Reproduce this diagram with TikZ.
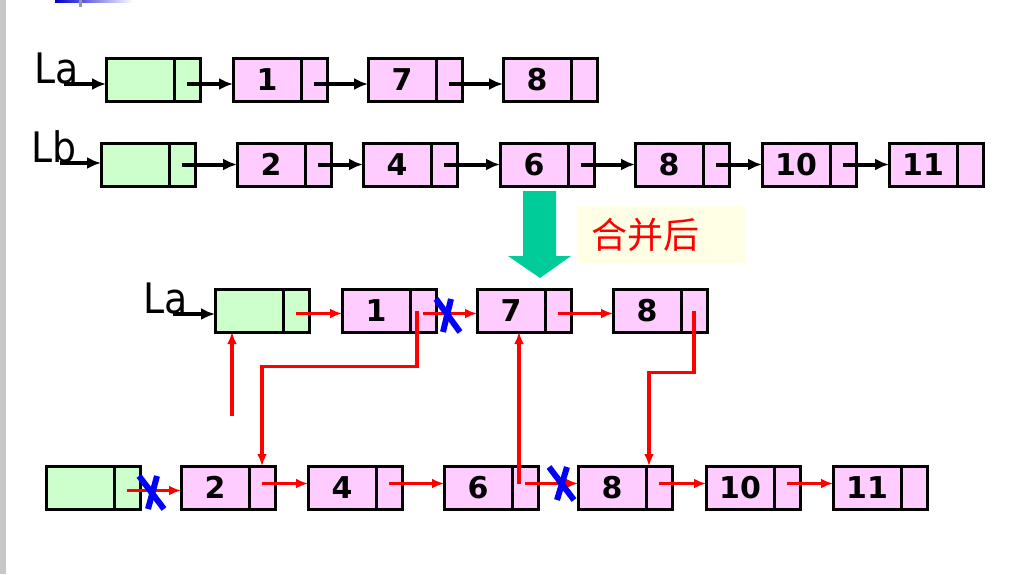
\documentclass[tikz,border=0pt]{standalone}
\usepackage{fontspec}
\usetikzlibrary{positioning,arrows.meta}
\newfontfamily\numfont{DejaVu Sans}
\newfontfamily\lblfont{DejaVu Sans}[FakeStretch=0.9]
\newfontfamily\cjkfont{Noto Sans CJK SC}
\definecolor{boxpink}{RGB}{255,204,255}
\definecolor{headgreen}{RGB}{204,255,204}
\definecolor{arrgreen}{RGB}{0,204,153}
\definecolor{noteyellow}{RGB}{255,255,230}
\begin{document}
\begin{tikzpicture}[x=1pt, y=-1pt, >={Latex[length=14pt,width=12pt]},
	cell/.style={draw, line width=3pt, inner sep=0pt, outer sep=0pt, minimum height=43pt},
	gdat/.style={cell, fill=headgreen, minimum width=68pt, anchor=west},
	gptr/.style={cell, fill=headgreen, minimum width=26pt},
	pdat/.style={cell, fill=boxpink, minimum width=68pt, anchor=west, font=\numfont\bfseries\fontsize{30}{30}\selectfont},
	pptr/.style={cell, fill=boxpink, minimum width=26pt},
	lbl/.style={font=\lblfont\fontsize{42}{42}\selectfont, inner sep=0pt, anchor=base west},
	note/.style={fill=noteyellow, anchor=north west, inner xsep=13pt, inner ysep=0pt, text width=142pt, minimum height=57pt, align=left, text=red, font=\cjkfont\fontsize{36}{36}\selectfont},
	blk/.style={->, line width=4pt},
	redl/.style={-{Latex[length=12pt,width=10pt]}, red, line width=3.6pt},
	cutx/.style={blue, line width=6pt}]
	\useasboundingbox (0,0) rectangle (1020,574);
	% slide edge
	\fill[black!22] (0,0) rectangle (6,574);
	\shade[left color=blue!80!black, right color=white] (55,0) rectangle (133,2);
	\fill[black!40] (79,0) rectangle (82,7);

	% La
	\node[lbl] (la) at (34,83) {La};
	\coordinate (lain) at (64,84);
	\node[gdat] (la0) at (106,80) {};
	\node[gptr, right=0pt of la0] (la0p) {};
	\node[pdat] (la1) at (233,80) {1};
	\node[pptr, right=0pt of la1] (la1p) {};
	\node[pdat] (la7) at (368,80) {7};
	\node[pptr, right=0pt of la7] (la7p) {};
	\node[pdat] (la8) at (503,80) {8};
	\node[pptr, right=0pt of la8] (la8p) {};
	\draw[blk] (lain) -- (lain -| la0.west);
	\draw[blk] ([yshift=-4pt]la0p.center) -- ([yshift=-4pt]la1.west);
	\draw[blk] ([yshift=-4pt]la1p.center) -- ([yshift=-4pt]la7.west);
	\draw[blk] ([yshift=-4pt]la7p.center) -- ([yshift=-4pt]la8.west);

	% Lb
	\node[lbl] (lb) at (31,162) {Lb};
	\coordinate (lbin) at (60,163);
	\node[gdat] (lb0) at (101,164.5) {};
	\node[gptr, right=0pt of lb0] (lb0p) {};
	\node[pdat] (lb2) at (237,164.5) {2};
	\node[pptr, right=0pt of lb2] (lb2p) {};
	\node[pdat] (lb4) at (363,164.5) {4};
	\node[pptr, right=0pt of lb4] (lb4p) {};
	\node[pdat] (lb6) at (500,164.5) {6};
	\node[pptr, right=0pt of lb6] (lb6p) {};
	\node[pdat] (lb8) at (635,164.5) {8};
	\node[pptr, right=0pt of lb8] (lb8p) {};
	\node[pdat] (lb10) at (762,164.5) {10};
	\node[pptr, right=0pt of lb10] (lb10p) {};
	\node[pdat] (lb11) at (889,164.5) {11};
	\node[pptr, right=0pt of lb11] (lb11p) {};
	\draw[blk] (lbin) -- (lbin -| lb0.west);
	\draw[blk] (lb0p.center) -- (lb2.west);
	\draw[blk] (lb2p.center) -- (lb4.west);
	\draw[blk] (lb4p.center) -- (lb6.west);
	\draw[blk] (lb6p.center) -- (lb8.west);
	\draw[blk] (lb8p.center) -- (lb10.west);
	\draw[blk] (lb10p.center) -- (lb11.west);

	% merge arrow
	\fill[arrgreen] (523,191) -- (556,191) -- (556,256) -- (571,256) -- (540,278) -- (508,256) -- (523,256) -- cycle;
	\node[note] (hz) at (578,206) {合并后};

	% merged La
	\node[lbl] (ma) at (143,313) {La};
	\coordinate (main) at (173,314);
	\node[gdat] (ma0) at (215,310.5) {};
	\node[gptr, right=0pt of ma0] (ma0p) {};
	\node[pdat] (ma1) at (342,310.5) {1};
	\node[pptr, right=0pt of ma1] (ma1p) {};
	\node[pdat] (ma7) at (477,310.5) {7};
	\node[pptr, right=0pt of ma7] (ma7p) {};
	\node[pdat] (ma8) at (613,310.5) {8};
	\node[pptr, right=0pt of ma8] (ma8p) {};

	% old Lb nodes
	\node[gdat] (mb0) at (46,487.5) {};
	\node[gptr, right=0pt of mb0] (mb0p) {};
	\node[pdat] (mb2) at (181,487.5) {2};
	\node[pptr, right=0pt of mb2] (mb2p) {};
	\node[pdat] (mb4) at (308,487.5) {4};
	\node[pptr, right=0pt of mb4] (mb4p) {};
	\node[pdat] (mb6) at (444,487.5) {6};
	\node[pptr, right=0pt of mb6] (mb6p) {};
	\node[pdat] (mb8) at (578,487.5) {8};
	\node[pptr, right=0pt of mb8] (mb8p) {};
	\node[pdat] (mb10) at (706,487.5) {10};
	\node[pptr, right=0pt of mb10] (mb10p) {};
	\node[pdat] (mb11) at (833,487.5) {11};
	\node[pptr, right=0pt of mb11] (mb11p) {};

	\draw[blk] (main) -- (main -| ma0.west);
	\draw[redl] ([yshift=-3pt]ma0p.center) -- ([yshift=-3pt]ma1.west);
	\draw[redl] ([yshift=-3pt]ma1p.center) -- ([yshift=-3pt]ma7.west);
	\draw[redl] ([yshift=-3pt]ma7p.center) -- ([yshift=-3pt]ma8.west);
	\draw[redl] ([xshift=-6pt]ma1p.center) -- ++(0,56) -| (mb2p.north);
	\draw[redl] (ma8p.center) -- ++(0,62) -| ([xshift=-10pt]mb8p.north);
	\coordinate (hb) at (232,416);
	\draw[redl] (hb) -- (hb |- ma0.south);
	\coordinate (up6) at ([xshift=-6pt, yshift=4pt]mb6p.center);
	\draw[redl] (up6) -- (up6 |- ma7.south);
	\draw[redl] ([yshift=-3pt]mb0p.center) -- ([yshift=-3pt]mb2.west);
	\draw[redl] ([yshift=4pt]mb2p.center) -- ([yshift=4pt]mb4.west);
	\draw[redl] ([yshift=4pt]mb4p.center) -- ([yshift=4pt]mb6.west);
	\draw[redl] ([yshift=4pt]mb6p.center) -- ([yshift=4pt]mb8.west);
	\draw[redl] ([yshift=4pt]mb8p.center) -- ([yshift=4pt]mb10.west);
	\draw[redl] ([yshift=4pt]mb10p.center) -- ([yshift=4pt]mb11.west);

	% broken links
	\draw[cutx] (436,299) -- (460,332);
	\draw[cutx] (451,299) -- (443,332);
	\draw[cutx] (139,476) -- (164,509);
	\draw[cutx] (157,476) -- (148,509);
	\draw[cutx] (549,467) -- (574,500);
	\draw[cutx] (567,467) -- (557,500);
\end{tikzpicture}
\end{document}
